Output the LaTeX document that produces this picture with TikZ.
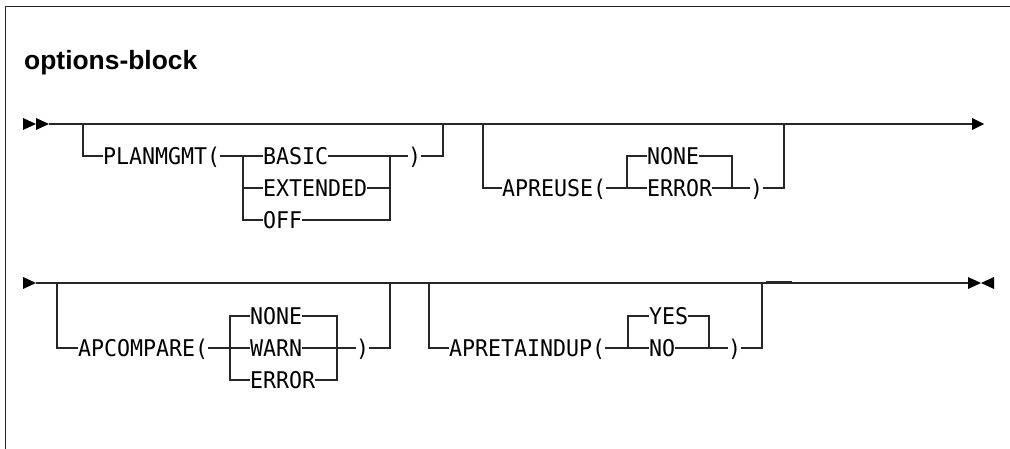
\documentclass[tikz,border=0pt]{standalone}
\usepackage{fontspec}
\newfontfamily\diagfont[FakeStretch=0.94]{DejaVu Sans Mono}
\newfontfamily\titlefont{Liberation Sans}
\tikzset{
  rail/.style={line width=1.2pt, draw=black!85},
  frame/.style={line width=1.4pt, draw=black!85},
  kw/.style={font=\diagfont\fontsize{23}{26}\selectfont, inner sep=0pt, outer sep=0pt,
             text height=16.8pt, text depth=0pt, anchor=west},
  ttl/.style={font=\titlefont\bfseries\fontsize{26.4}{30}\selectfont, inner sep=0pt, anchor=base west},
  tip/.style={fill=black}
}
\begin{document}
\begin{tikzpicture}[x=1pt,y=-1pt]
\useasboundingbox (0,0) rectangle (1010,449);
% frame
\coordinate (fb) at (5.5,449);
\coordinate (fc) at (5.5,6.5);
\coordinate (fr) at (1010,6.5);
\draw[frame] (fb) -- (fc) -- (fr);
\node[ttl] (title) at (24,70) {options-block};

% ---------- row 1 ----------
\coordinate (s1) at (49,124);
\coordinate (e1) at (972,124);
\fill[tip] (23,118) -- (36,124) -- (23,130) -- cycle;
\fill[tip] (36,118) -- (49,124) -- (36,130) -- cycle;
\draw[rail] (s1) -- (e1);
\fill[tip] (972,118) -- (984,124) -- (972,130) -- cycle;

% PLANMGMT
\coordinate (p0) at (83,124);
\coordinate (p1) at (83,156);
\node[kw] (plan) at (103,156) {PLANMGMT(};
\coordinate (pj) at (243,156);
\node[kw] (basic) at (263,156) {BASIC};
\node[kw] (ext) at (263,188) {EXTENDED};
\node[kw] (off) at (263,220) {OFF};
\coordinate (pk) at (390,156);
\node[kw] (pclose) at (408,156) {)};
\coordinate (p2) at (443,156);
\coordinate (p3) at (443,124);
\draw[rail] (p0) -- (p1) -- (plan.west);
\draw[rail] (plan.east) -- (basic.west);
\draw[rail] (pj) |- (ext.west);
\draw[rail] (pj) |- (off.west);
\draw[rail] (basic.east) -- (pclose.west);
\draw[rail] (ext.east) -| (pk);
\draw[rail] (off.east) -| (pk);
\draw[rail] (pclose.east) -- (p2) -- (p3);

% APREUSE
\coordinate (a0) at (483,124);
\coordinate (a1) at (483,188);
\node[kw] (apreuse) at (502,188) {APREUSE(};
\coordinate (aj) at (627,188);
\node[kw] (anone) at (647,156) {NONE};
\node[kw] (aerr) at (647,188) {ERROR};
\coordinate (ak) at (732,188);
\node[kw] (aclose) at (750,188) {)};
\coordinate (a2) at (784,188);
\coordinate (a3) at (784,124);
\draw[rail] (a0) -- (a1) -- (apreuse.west);
\draw[rail] (apreuse.east) -- (aerr.west);
\draw[rail] (aj) |- (anone.west);
\draw[rail] (anone.east) -| (ak);
\draw[rail] (aerr.east) -- (aclose.west);
\draw[rail] (aclose.east) -- (a2) -- (a3);

% ---------- row 2 ----------
\coordinate (s2) at (36,283);
\coordinate (e2) at (968,283);
\fill[tip] (23,277) -- (36,283) -- (23,289) -- cycle;
\draw[rail] (s2) -- (e2);
\fill[tip] (968,277) -- (981,283) -- (968,289) -- cycle;
\fill[tip] (994,277) -- (981,283) -- (994,289) -- cycle;

% APCOMPARE
\coordinate (c0) at (57,283);
\coordinate (c1) at (57,348);
\node[kw] (apcomp) at (78,348) {APCOMPARE(};
\coordinate (cj) at (230,348);
\node[kw] (cnone) at (250,316) {NONE};
\node[kw] (cwarn) at (250,348) {WARN};
\node[kw] (cerr) at (250,380) {ERROR};
\coordinate (ck) at (337,348);
\node[kw] (cclose) at (356,348) {)};
\coordinate (c2) at (390,348);
\coordinate (c3) at (390,283);
\draw[rail] (c0) -- (c1) -- (apcomp.west);
\draw[rail] (apcomp.east) -- (cwarn.west);
\draw[rail] (cnone.west) -| (cj) |- (cerr.west);
\draw[rail] (cnone.east) -| (ck) |- (cerr.east);
\draw[rail] (cwarn.east) -- (cclose.west);
\draw[rail] (cclose.east) -- (c2) -- (c3);

% APRETAINDUP
\coordinate (r0) at (429,283);
\coordinate (r1) at (429,348);
\node[kw] (apret) at (449,348) {APRETAINDUP(};
\coordinate (rj) at (628,348);
\node[kw] (ryes) at (649,316) {YES};
\node[kw] (rno) at (649,348) {NO};
\coordinate (rk) at (709,348);
\node[kw] (rclose) at (728,348) {)};
\coordinate (r2) at (762,348);
\coordinate (r3) at (762,283);
\draw[rail] (r0) -- (r1) -- (apret.west);
\draw[rail] (apret.east) -- (rno.west);
\draw[rail] (rj) |- (ryes.west);
\draw[rail] (ryes.east) -| (rk);
\draw[rail] (rno.east) -- (rclose.west);
\draw[rail] (rclose.east) -- (r2) -- (r3);
\coordinate (g1) at (766,282.4);
\coordinate (g2) at (792,282.4);
\draw[rail, line width=1.8pt] (g1) -- (g2);
\end{tikzpicture}
\end{document}
